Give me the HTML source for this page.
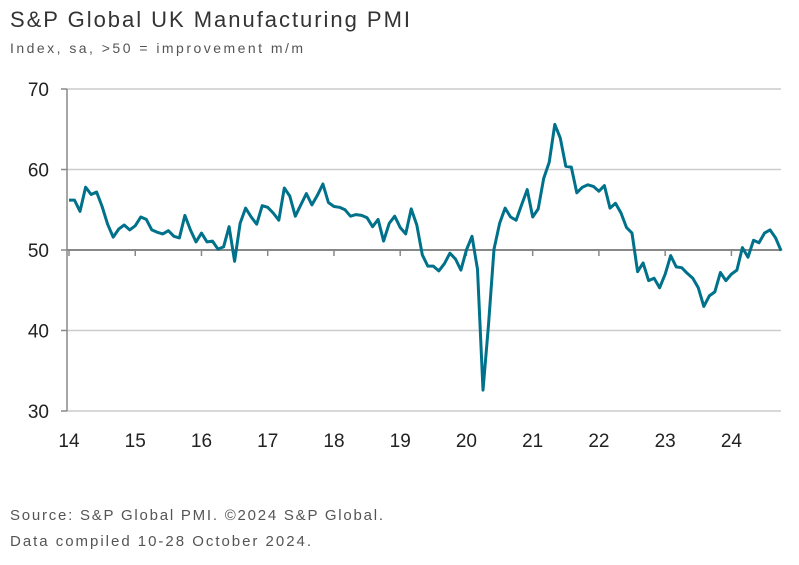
<!DOCTYPE html>
<html><head><meta charset="utf-8"><style>
body{margin:0;background:#fff;width:799px;height:560px;overflow:hidden;font-family:"Liberation Sans",sans-serif}
</style></head><body>
<svg width="799" height="560" xmlns="http://www.w3.org/2000/svg">
<text x="10" y="27" font-size="22" fill="#333" textLength="400" lengthAdjust="spacing">S&amp;P Global UK Manufacturing PMI</text>
<text x="10" y="53" font-size="14" fill="#555" textLength="293" lengthAdjust="spacing">Index, sa, &gt;50 = improvement m/m</text>
<g id="axes"></g>
<path id="line" fill="none" stroke="#00718a" stroke-width="3" stroke-linejoin="round"/>
<text x="10" y="520" font-size="15" fill="#555" textLength="373" lengthAdjust="spacing">Source: S&amp;P Global PMI. ©2024 S&amp;P Global.</text>
<text x="10" y="546" font-size="15" fill="#555" textLength="301" lengthAdjust="spacing">Data compiled 10-28 October 2024.</text>
</svg>
<script>
const yearLabels=["14","15","16","17","18","19","20","21","22","23","24"];
const yTicks=[30,40,50,60,70];
const pmi=[56.2,56.2,54.8,57.8,56.9,57.2,55.4,53.2,51.6,52.6,53.1,52.5,
53.0,54.1,53.8,52.5,52.2,52.0,52.4,51.7,51.5,54.3,52.5,51.0,
52.1,51.0,51.1,50.1,50.4,52.9,48.6,53.3,55.2,54.1,53.2,55.5,
55.3,54.6,53.7,57.7,56.7,54.2,55.6,57.0,55.6,56.8,58.2,55.9,
55.4,55.3,55.0,54.2,54.4,54.3,54.0,52.9,53.8,51.1,53.3,54.2,
52.8,52.0,55.1,53.1,49.4,48.0,48.0,47.4,48.3,49.6,48.9,47.5,
50.0,51.7,47.6,32.6,40.7,50.1,53.3,55.2,54.1,53.7,55.6,57.5,
54.1,55.1,58.9,60.9,65.6,63.9,60.4,60.3,57.1,57.8,58.1,57.9,
57.3,58.0,55.2,55.8,54.6,52.8,52.1,47.3,48.4,46.2,46.5,45.3,
47.0,49.3,47.9,47.8,47.1,46.5,45.3,43.0,44.3,44.8,47.2,46.2,
47.0,47.5,50.3,49.1,51.2,50.9,52.1,52.5,51.5,49.9];
const X0=69,DX=5.52,left=67,right=781;
const xs=i=>X0+i*DX;
const ys=v=>250-(v-50)*8.05;
const ns="http://www.w3.org/2000/svg";
const ax=document.getElementById('axes');
function mk(t,a){const e=document.createElementNS(ns,t);for(const k in a)e.setAttribute(k,a[k]);ax.appendChild(e);return e;}
yTicks.forEach(v=>{
 if(v!==50){const g=mk('line',{x1:left,x2:right,y1:ys(v),y2:ys(v),stroke:'#cccccc','stroke-width':1.5});
 
 }
 const t=mk('line',{x1:left-6,x2:left,y1:ys(v),y2:ys(v),stroke:'#888','stroke-width':1.5});
 
 
 const l=mk('text',{x:49,y:ys(v)+7,'font-size':19,'text-anchor':'end',fill:'#222'});l.textContent=v;
 
 
});
const ya=mk('line',{x1:left,x2:left,y1:ys(70),y2:ys(30),stroke:'#888','stroke-width':1.5});


const xa=mk('line',{x1:left,x2:right,y1:ys(50),y2:ys(50),stroke:'#888','stroke-width':2});


yearLabels.forEach((lab,i)=>{
 const x=xs(i*12);
 const t=mk('line',{x1:x,x2:x,y1:ys(50),y2:ys(50)+6,stroke:'#888','stroke-width':1.5});
 
 
 const l=mk('text',{x:x,y:447,'font-size':19,'text-anchor':'middle',fill:'#222'});l.textContent=lab;
 
 
});
document.getElementById('line').setAttribute('d',pmi.map((v,i)=>(i?'L':'M')+xs(i).toFixed(1)+' '+ys(v).toFixed(1)).join(''));
</script>
</body></html>
